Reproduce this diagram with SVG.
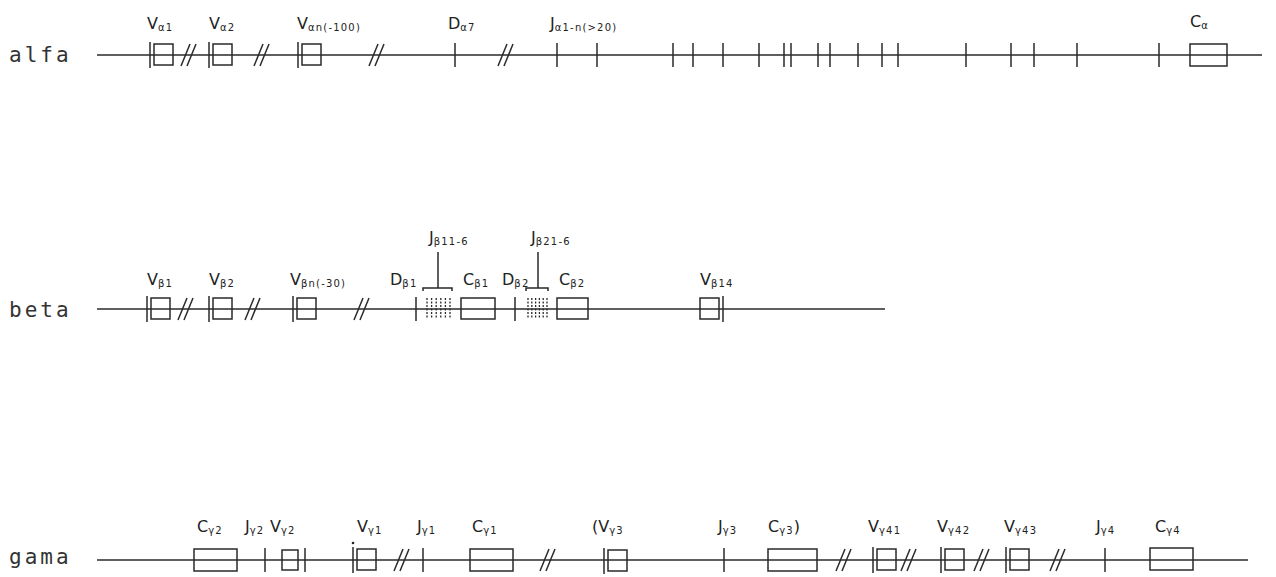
<svg xmlns="http://www.w3.org/2000/svg" width="1276" height="577" viewBox="0 0 1276 577">
<style>
.ln{stroke:#2a2a2a;stroke-width:1.5;fill:none}
.dl{stroke:#2a2a2a;stroke-width:1.3;fill:none;stroke-dasharray:2,1.5}
.lbl{font-family:"DejaVu Sans","Liberation Sans",sans-serif;font-size:16px;fill:#222}
.sub{font-size:10px;letter-spacing:1.2px}
.row{font-family:"DejaVu Sans Mono","Liberation Mono",monospace;font-size:21px;letter-spacing:3px;fill:#333}
</style>
<defs>
<g id="brk"><line x1="0" y1="11" x2="9" y2="-11"/><line x1="6" y1="11" x2="15" y2="-11"/></g>
<g id="tk"><line x1="0" y1="-12" x2="0" y2="12"/></g>
<g id="vb"><line x1="0" y1="-13" x2="0" y2="13"/><rect x="4" y="-11" width="19" height="21"/></g>
</defs>
<rect width="1276" height="577" fill="#fff"/>

<g id="row-labels">
<text class="row" x="9" y="62">alfa</text>
<text class="row" x="9" y="317">beta</text>
<text class="row" x="9" y="564">gama</text>
</g>

<g id="connectors" class="ln">
<line x1="97" y1="55" x2="1262" y2="55"/>
<line x1="97" y1="309" x2="885" y2="309"/>
<line x1="97" y1="560" x2="1248" y2="560"/>
<g id="alfa-breaks">
<use href="#brk" x="181" y="55"/><use href="#brk" x="254" y="55"/><use href="#brk" x="369" y="55"/><use href="#brk" x="498" y="55"/>
</g>
<g id="beta-breaks">
<use href="#brk" x="178" y="309"/><use href="#brk" x="245" y="309"/><use href="#brk" x="354" y="309"/>
</g>
<g id="gama-breaks">
<use href="#brk" x="394" y="560"/><use href="#brk" x="540" y="560"/><use href="#brk" x="836" y="560"/><use href="#brk" x="901" y="560"/><use href="#brk" x="974" y="560"/><use href="#brk" x="1050" y="560"/>
</g>
</g>

<!-- ALFA -->
<g id="Va1"><use href="#vb" class="ln" x="150" y="55"/><text class="lbl" x="147" y="29">V<tspan class="sub" dy="2">α1</tspan></text></g>
<g id="Va2"><use href="#vb" class="ln" x="209" y="55"/><text class="lbl" x="209" y="29">V<tspan class="sub" dy="2">α2</tspan></text></g>
<g id="Van"><use href="#vb" class="ln" x="298" y="55"/><text class="lbl" x="297" y="29">V<tspan class="sub" dy="2">αn(-100)</tspan></text></g>
<g id="Da7"><use href="#tk" class="ln" x="455" y="55"/><text class="lbl" x="448" y="29">D<tspan class="sub" dy="2">α7</tspan></text></g>
<g id="Ja"><text class="lbl" x="550" y="29">J<tspan class="sub" dy="2">α1-n(&gt;20)</tspan></text>
<g class="ln">
<use href="#tk" x="557" y="55"/><use href="#tk" x="597" y="55"/><use href="#tk" x="673" y="55"/><use href="#tk" x="693" y="55"/><use href="#tk" x="723" y="55"/><use href="#tk" x="759" y="55"/><use href="#tk" x="784" y="55"/><use href="#tk" x="791" y="55"/><use href="#tk" x="818" y="55"/><use href="#tk" x="830" y="55"/><use href="#tk" x="858" y="55"/><use href="#tk" x="882" y="55"/><use href="#tk" x="898" y="55"/><use href="#tk" x="966" y="55"/><use href="#tk" x="1011" y="55"/><use href="#tk" x="1034" y="55"/><use href="#tk" x="1077" y="55"/><use href="#tk" x="1159" y="55"/>
</g></g>
<g id="Ca"><rect class="ln" x="1190" y="44" width="37" height="22"/><text class="lbl" x="1190" y="27">C<tspan class="sub" dy="2">α</tspan></text></g>

<!-- BETA -->
<g id="Vb1"><use href="#vb" class="ln" x="147" y="309"/><text class="lbl" x="147" y="285">V<tspan class="sub" dy="2">β1</tspan></text></g>
<g id="Vb2"><use href="#vb" class="ln" x="209" y="309"/><text class="lbl" x="209" y="285">V<tspan class="sub" dy="2">β2</tspan></text></g>
<g id="Vbn"><use href="#vb" class="ln" x="293" y="309"/><text class="lbl" x="290" y="285">V<tspan class="sub" dy="2">βn(-30)</tspan></text></g>
<g id="Db1"><use href="#tk" class="ln" x="416" y="309"/><text class="lbl" x="390" y="285">D<tspan class="sub" dy="2">β1</tspan></text></g>
<g id="Jb1"><text class="lbl" x="429" y="243">J<tspan class="sub" dy="2">β11-6</tspan></text>
<path class="ln" d="M438 252V288M423 291V288H452V291"/>
<g class="dl"><line x1="427" y1="298" x2="427" y2="318"/><line x1="431.6" y1="298" x2="431.6" y2="318"/><line x1="436.2" y1="298" x2="436.2" y2="318"/><line x1="440.8" y1="298" x2="440.8" y2="318"/><line x1="445.4" y1="298" x2="445.4" y2="318"/><line x1="450" y1="298" x2="450" y2="318"/></g></g>
<g id="Cb1"><rect class="ln" x="461" y="298" width="34" height="21"/><text class="lbl" x="463" y="285">C<tspan class="sub" dy="2">β1</tspan></text></g>
<g id="Db2"><use href="#tk" class="ln" x="515" y="309"/><text class="lbl" x="502" y="285">D<tspan class="sub" dy="2">β2</tspan></text></g>
<g id="Jb2"><text class="lbl" x="531" y="243">J<tspan class="sub" dy="2">β21-6</tspan></text>
<path class="ln" d="M538 252V288M526 291V288H548V291"/>
<g class="dl"><line x1="528" y1="298" x2="528" y2="318"/><line x1="531.8" y1="298" x2="531.8" y2="318"/><line x1="535.6" y1="298" x2="535.6" y2="318"/><line x1="539.4" y1="298" x2="539.4" y2="318"/><line x1="543.2" y1="298" x2="543.2" y2="318"/><line x1="547" y1="298" x2="547" y2="318"/></g></g>
<g id="Cb2"><rect class="ln" x="557" y="298" width="31" height="21"/><text class="lbl" x="559" y="285">C<tspan class="sub" dy="2">β2</tspan></text></g>
<g id="Vb14"><rect class="ln" x="700" y="298" width="19" height="21"/><line class="ln" x1="723" y1="296" x2="723" y2="322"/><text class="lbl" x="700" y="285">V<tspan class="sub" dy="2">β14</tspan></text></g>

<!-- GAMA -->
<g id="Cg2"><rect class="ln" x="194" y="549" width="43" height="22"/><text class="lbl" x="197" y="532">C<tspan class="sub" dy="2">γ2</tspan></text></g>
<g id="Jg2"><use href="#tk" class="ln" x="265" y="560"/><text class="lbl" x="245" y="532">J<tspan class="sub" dy="2">γ2</tspan></text></g>
<g id="Vg2"><rect class="ln" x="282" y="550" width="16" height="20"/><line class="ln" x1="305" y1="548" x2="305" y2="572"/><text class="lbl" x="270" y="532">V<tspan class="sub" dy="2">γ2</tspan></text></g>
<g id="Vg1"><use href="#vb" class="ln" x="353" y="560"/><circle cx="353" cy="543" r="1.3" fill="#222"/><text class="lbl" x="357" y="532">V<tspan class="sub" dy="2">γ1</tspan></text></g>
<g id="Jg1"><use href="#tk" class="ln" x="423" y="560"/><text class="lbl" x="417" y="532">J<tspan class="sub" dy="2">γ1</tspan></text></g>
<g id="Cg1"><rect class="ln" x="470" y="549" width="43" height="22"/><text class="lbl" x="472" y="532">C<tspan class="sub" dy="2">γ1</tspan></text></g>
<g id="Vg3"><use href="#vb" class="ln" x="604" y="561"/><text class="lbl" x="592" y="532">(V<tspan class="sub" dy="2">γ3</tspan></text></g>
<g id="Jg3"><use href="#tk" class="ln" x="724" y="560"/><text class="lbl" x="718" y="532">J<tspan class="sub" dy="2">γ3</tspan></text></g>
<g id="Cg3"><rect class="ln" x="768" y="549" width="49" height="22"/><text class="lbl" x="768" y="532">C<tspan class="sub" dy="2">γ3</tspan><tspan dy="-2">)</tspan></text></g>
<g id="Vg41"><use href="#vb" class="ln" x="873" y="560"/><text class="lbl" x="868" y="532">V<tspan class="sub" dy="2">γ41</tspan></text></g>
<g id="Vg42"><use href="#vb" class="ln" x="941" y="560"/><text class="lbl" x="937" y="532">V<tspan class="sub" dy="2">γ42</tspan></text></g>
<g id="Vg43"><use href="#vb" class="ln" x="1006" y="560"/><text class="lbl" x="1004" y="532">V<tspan class="sub" dy="2">γ43</tspan></text></g>
<g id="Jg4"><use href="#tk" class="ln" x="1105" y="560"/><text class="lbl" x="1096" y="532">J<tspan class="sub" dy="2">γ4</tspan></text></g>
<g id="Cg4"><rect class="ln" x="1150" y="548" width="43" height="22"/><text class="lbl" x="1155" y="532">C<tspan class="sub" dy="2">γ4</tspan></text></g>
</svg>
